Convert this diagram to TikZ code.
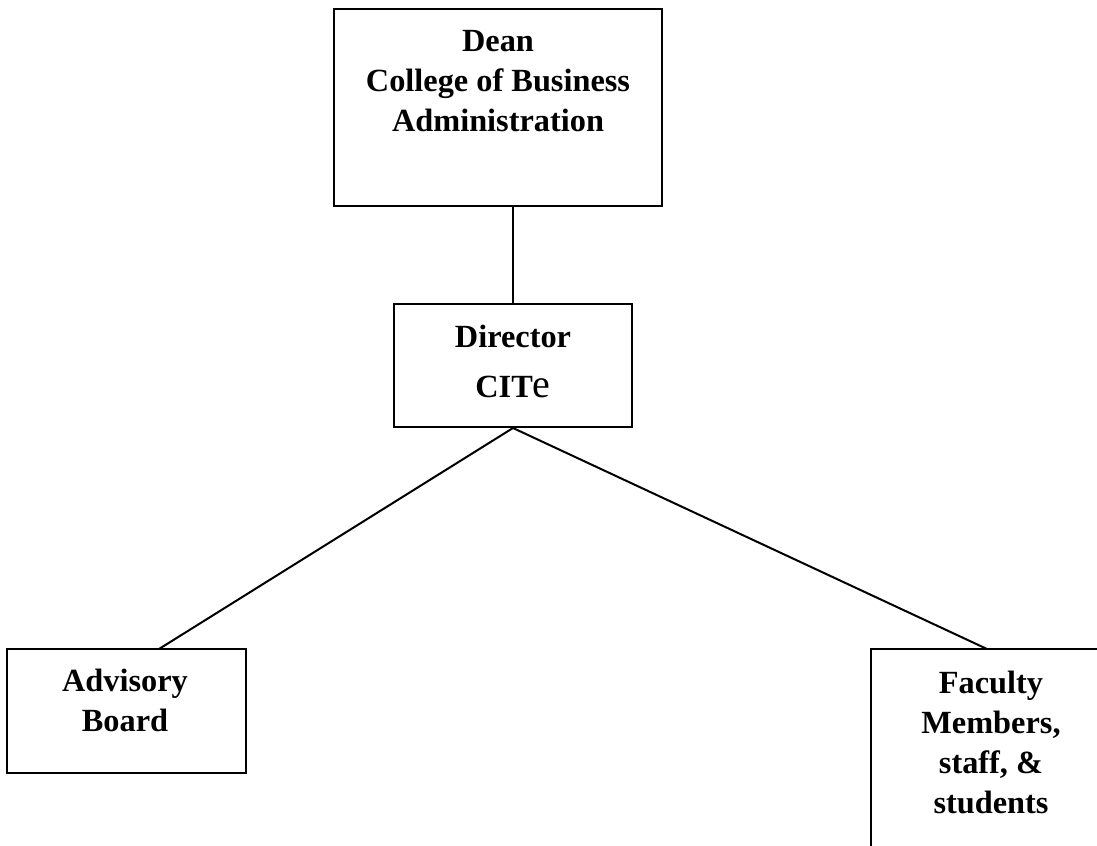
\documentclass[tikz,border=0pt]{standalone}
\usepackage{fontspec}
\setmainfont{Liberation Serif}
\begin{document}
\begin{tikzpicture}[x=0.75pt,y=-0.75pt,
  box/.style={draw, line width=1.5pt, rectangle, inner sep=0pt},
  txt/.style={font=\fontsize{24.25}{30}\selectfont\bfseries, align=center, inner sep=0pt, anchor=north},
  link/.style={line width=1.5pt}]
\useasboundingbox (0,0) rectangle (1097,846);
\clip (0,0) rectangle (1097,846);
\fill[white] (0,0) rectangle (1097,846);
% boxes
\node[box, minimum width=246pt, minimum height=147.75pt] (dean) at (498,107.5) {};
\node[box, minimum width=178.5pt, minimum height=92.25pt] (dir) at (513,365.5) {};
\node[box, minimum width=179.25pt, minimum height=93pt] (adv) at (126.5,711) {};
\node[box, minimum width=180pt, minimum height=188.25pt] (fac) at (991,774.5) {};
% texts
\node[txt] (deant) at (498,30) {Dean\\College of Business\\Administration};
\node[txt] (dirt) at (513,325) {Director\\[7pt]CIT{\mdseries\fontsize{30}{30}\selectfont e}};
\node[txt] (advt) at (125,669) {Advisory\\Board};
\node[txt] (fact) at (991,671) {Faculty\\Members,\\staff, \&\\students};
% connectors
\coordinate (advtop) at (159,649);
\coordinate (factop) at (987,649);
\draw[link] (dir.north) -- (dir.north |- dean.south);
\draw[link] (dir.south) -- (advtop);
\draw[link] (dir.south) -- (factop);
\end{tikzpicture}
\end{document}
